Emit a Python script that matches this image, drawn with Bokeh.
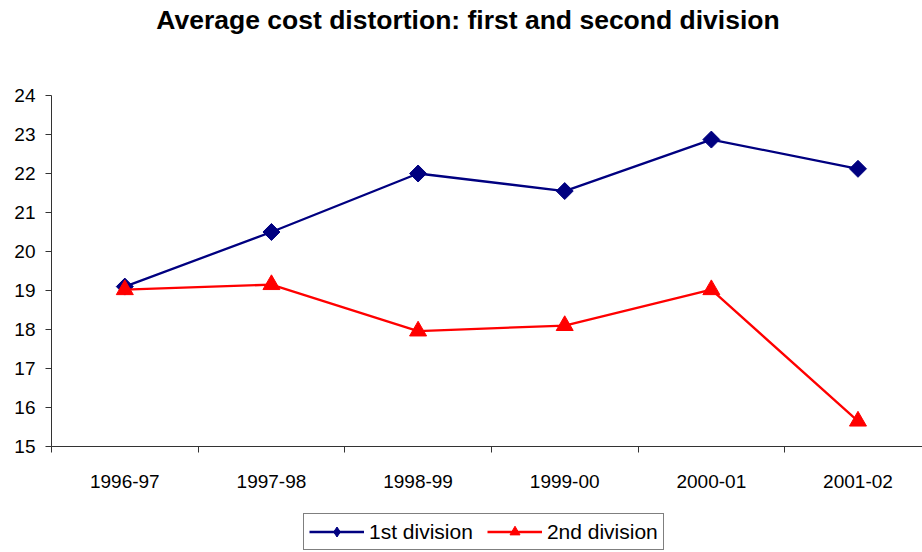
import math
from bokeh.plotting import figure
from bokeh.layouts import column
from bokeh.models import Range1d, FixedTicker, Legend, LegendItem, Label
from bokeh.embed import file_html
from bokeh.resources import INLINE

seasons = ["1996-97", "1997-98", "1998-99", "1999-00", "2000-01", "2001-02"]
first_division = [19.1, 20.5, 22.0, 21.55, 22.87, 22.12]
second_division = [19.02, 19.15, 17.96, 18.1, 19.02, 15.65]
y_ticks = list(range(15, 25))
series_names = ["1st division", "2nd division"]
chart_title = "Average cost distortion: first and second division"

FONT = "Liberation Sans"
NAVY = "#000080"
RED = "#FF0000"
xs = [i + 0.5 for i in range(len(seasons))]


def blank(height):
    f = figure(width=922, height=height, output_backend="svg", toolbar_location=None,
               x_range=Range1d(100, 101), y_range=Range1d(100, 101),
               x_axis_location=None, y_axis_location=None, min_border=0)
    f.outline_line_color = None
    f.xgrid.visible = False
    f.ygrid.visible = False
    f.border_fill_color = "white"
    return f


# header strip with the title
t = blank(45)
t.add_layout(Label(x=416.5, y=26, x_units="screen", y_units="screen",
                   text=chart_title, text_font=FONT, text_font_size="26.5px",
                   text_font_style="bold", text_color="black",
                   text_align="center", text_baseline="alphabetic"))

# main chart
p = figure(width=922, height=465, output_backend="svg", toolbar_location=None,
           x_range=Range1d(0, 5.94), y_range=Range1d(15, 24),
           min_border_left=51, min_border_right=0, min_border_top=50, min_border_bottom=64)
p.outline_line_color = None
p.xgrid.visible = False
p.ygrid.visible = False
p.background_fill_color = "white"
p.border_fill_color = "white"

xa = p.xaxis[0]
xa.ticker = FixedTicker(ticks=xs, minor_ticks=list(range(0, 7)))
xa.major_label_overrides = {x: s for x, s in zip(xs, seasons)}
xa.major_tick_out = 0
xa.major_tick_in = 0
xa.minor_tick_out = 6
xa.minor_tick_in = 0
xa.minor_tick_line_color = "#333333"
xa.axis_line_color = "#333333"
xa.major_label_standoff = 22
xa.major_label_text_font = FONT
xa.major_label_text_font_size = "19px"
xa.major_label_text_color = "black"

ya = p.yaxis[0]
ya.ticker = FixedTicker(ticks=y_ticks, minor_ticks=[])
ya.major_tick_out = 6
ya.major_tick_in = 0
ya.major_tick_line_color = "#333333"
ya.axis_line_color = "#333333"
ya.major_label_standoff = 10
ya.major_label_text_font = FONT
ya.major_label_text_font_size = "19px"
ya.major_label_text_color = "black"

p.line(xs, first_division, line_color=NAVY, line_width=2.3)
p.scatter(xs, first_division, marker="square", size=12, angle=math.pi / 4,
          fill_color=NAVY, line_color=NAVY)
p.line(xs, second_division, line_color=RED, line_width=2.3)
p.scatter(xs, second_division, marker="triangle", size=17,
          fill_color=RED, line_color=RED)

# legend strip (its renderers lie outside its own view)
q = blank(42)
ql1 = q.line(xs, first_division, line_color=NAVY, line_width=2.3)
qm1 = q.scatter(xs, first_division, marker="diamond", size=16,
                fill_color=NAVY, line_color=NAVY)
ql2 = q.line(xs, second_division, line_color=RED, line_width=2.3)
qm2 = q.scatter(xs, second_division, marker="triangle", size=16,
                fill_color=RED, line_color=RED)

legend = Legend(items=[LegendItem(label=series_names[0], renderers=[ql1, qm1]),
                       LegendItem(label=series_names[1], renderers=[ql2, qm2])],
                orientation="horizontal", location=(252, 2),
                glyph_width=55, glyph_height=25, label_standoff=5, spacing=14,
                padding=5, margin=0,
                label_text_font=FONT, label_text_font_size="21px",
                label_text_color="black",
                border_line_color="black", border_line_width=1,
                background_fill_color="white", background_fill_alpha=1)
q.add_layout(legend, "center")

layout = column(t, p, q, spacing=0)
open("out.html", "w").write(file_html(layout, INLINE))
